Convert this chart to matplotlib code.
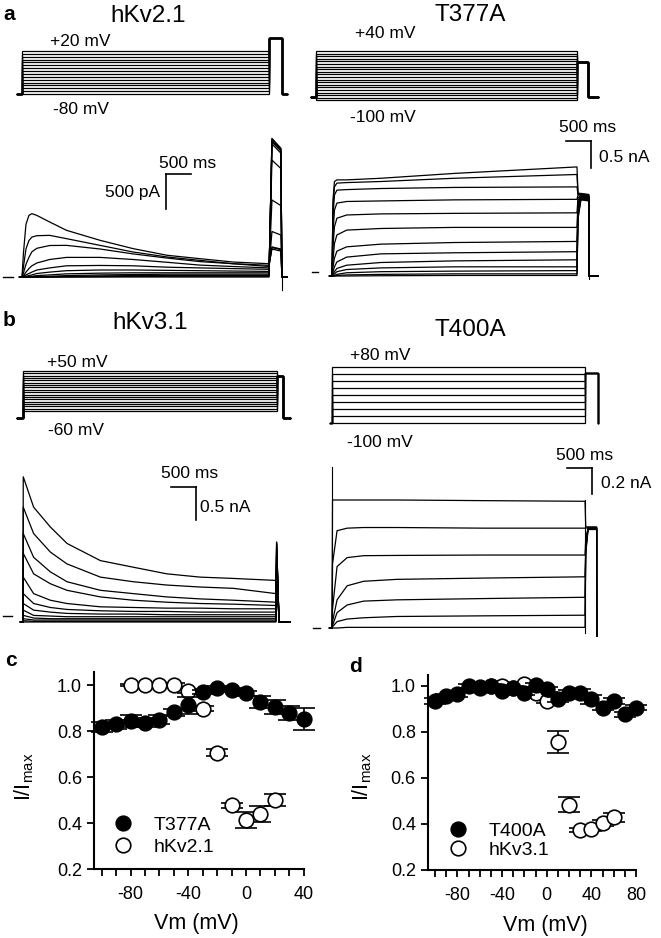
import numpy as np
import matplotlib
matplotlib.use("Agg")
import matplotlib.pyplot as plt
from matplotlib.lines import Line2D

plt.rcParams["font.family"] = ["Liberation Sans", "DejaVu Sans"]
plt.rcParams["axes.unicode_minus"] = False
plt.rcParams["mathtext.fontset"] = "custom"
plt.rcParams["mathtext.rm"] = "Liberation Sans"
plt.rcParams["mathtext.it"] = "Liberation Sans:italic"

W, H = 661, 938
STEP = 5000  # ms, length of the conditioning steps

# --- voltage protocols (mV) ---
A1_LEVELS = np.linspace(-80, 20, 16)
A2_LEVELS = np.linspace(-100, 40, 20)
B1_LEVELS = np.linspace(-60, 50, 18)
B2_LEVELS = np.linspace(-100, 80, 9)

# hold, test, post, t_pre, t_test_end, t_post_end
A1_PROT = (-80, 50, -80, -100, 5263, 5364)
A2_PROT = (-90, 10, -90, -100, 5211, 5402)
B1_PROT = (-80, 35, -80, -118, 5118, 5256)
B2_PROT = (-100, 60, -100, -40, 5257, 5257)

# --- hKv2.1 currents (nA) ---
A1_T = [0, 30, 80, 140, 200, 300, 560, 900, 1580, 2250, 2940, 3600, 4270, 5000]
A1_I = [
    [0, 0.35, 0.75, 0.88, 0.905, 0.88, 0.786, 0.667, 0.524, 0.405, 0.31, 0.262, 0.214, 0.19],
    [0, 0.15, 0.40, 0.52, 0.57, 0.59, 0.595, 0.548, 0.452, 0.357, 0.286, 0.238, 0.19, 0.167],
    [0, 0.06, 0.18, 0.28, 0.36, 0.41, 0.45, 0.452, 0.40, 0.33, 0.27, 0.22, 0.19, 0.15],
    [0, 0.02, 0.07, 0.12, 0.16, 0.20, 0.25, 0.28, 0.28, 0.25, 0.21, 0.17, 0.15, 0.13],
    [0, 0.01, 0.03, 0.05, 0.07, 0.10, 0.13, 0.16, 0.165, 0.16, 0.14, 0.13, 0.12, 0.11],
    [0, 0, 0.01, 0.02, 0.03, 0.05, 0.07, 0.09, 0.10, 0.10, 0.095, 0.09, 0.085, 0.08],
    [0, 0, 0, 0.005, 0.01, 0.02, 0.03, 0.045, 0.055, 0.06, 0.06, 0.06, 0.06, 0.06],
    [0, 0, 0, 0, 0, 0.005, 0.01, 0.02, 0.03, 0.035, 0.04, 0.04, 0.04, 0.04],
    [0, 0, 0, 0, 0, 0, 0, 0.01, 0.015, 0.02, 0.02, 0.02, 0.02, 0.02],
    [0, 0, 0, 0, 0, 0, 0, 0, 0.005, 0.01, 0.01, 0.01, 0.01, 0.01],
    [0, 0, 0, 0, 0, 0, 0, 0, 0, 0, 0, 0, 0, 0],
]
A1_TAIL_T = [5060, 5240, 5262, 5370]
A1_TAIL = [
    [0.40, 0.37, 0, 0], [0.43, 0.40, 0, 0], [0.42, 0.39, 0, 0],
    [0.65, 0.60, 0, 0], [1.10, 1.02, 0, 0], [1.67, 1.55, 0, 0],
    [1.90, 1.77, 0, 0], [1.93, 1.80, 0, 0], [1.95, 1.81, 0, 0],
    [1.97, 1.83, 0, 0], [1.98, 1.84, 0, 0],
]
A1_SPIKES = [(5262, -0.19, 0.0)]

# --- T377A currents (nA) ---
A2_T = [0, 20, 50, 100, 300, 1000, 2500, 5000]
A2_I = [
    [0, 1.41, 1.75, 1.78, 1.78, 1.81, 1.90, 2.02],
    [0, 1.28, 1.65, 1.72, 1.73, 1.75, 1.81, 1.88],
    [0, 1.10, 1.50, 1.59, 1.60, 1.62, 1.64, 1.65],
    [0, 0.79, 1.22, 1.35, 1.38, 1.39, 1.41, 1.42],
    [0, 0.54, 0.91, 1.07, 1.13, 1.15, 1.16, 1.17],
    [0, 0.30, 0.60, 0.76, 0.85, 0.88, 0.90, 0.90],
    [0, 0.17, 0.33, 0.46, 0.54, 0.59, 0.62, 0.64],
    [0, 0.08, 0.17, 0.26, 0.35, 0.41, 0.43, 0.45],
    [0, 0.04, 0.08, 0.14, 0.20, 0.25, 0.28, 0.30],
    [0, 0.01, 0.04, 0.08, 0.12, 0.15, 0.17, 0.17],
    [0, 0, 0.01, 0.03, 0.06, 0.08, 0.09, 0.10],
    [0, 0, 0, 0.01, 0.02, 0.03, 0.04, 0.04],
    [0, 0, 0, 0, 0, 0.005, 0.01, 0.01],
]
A2_TAIL_T = [5020, 5080, 5240, 5245, 5430]
A2_TAIL = [
    [1.53, 1.53, 1.51, 0, 0], [1.52, 1.52, 1.50, 0, 0], [1.51, 1.51, 1.49, 0, 0],
    [1.50, 1.50, 1.48, 0, 0], [1.45, 1.49, 1.47, 0, 0], [1.40, 1.48, 1.46, 0, 0],
    [1.35, 1.47, 1.45, 0, 0], [1.30, 1.46, 1.44, 0, 0], [1.25, 1.45, 1.43, 0, 0],
    [1.20, 1.44, 1.42, 0, 0], [1.15, 1.43, 1.41, 0, 0], [1.10, 1.42, 1.40, 0, 0],
    [1.05, 1.41, 1.39, 0, 0],
]
A2_SPIKES = [(5242, -0.05, 0.0)]

# --- hKv3.1 currents (nA) ---
B1_T = [0, 5, 210, 540, 870, 1530, 2180, 2840, 3500, 4160, 5000]
B1_I = [
    [0, 2.20, 1.74, 1.44, 1.19, 0.93, 0.83, 0.73, 0.68, 0.66, 0.63],
    [0, 1.74, 1.34, 1.06, 0.88, 0.68, 0.61, 0.56, 0.53, 0.51, 0.43],
    [0, 1.34, 0.98, 0.76, 0.61, 0.48, 0.43, 0.38, 0.35, 0.33, 0.30],
    [0, 1.04, 0.73, 0.58, 0.48, 0.38, 0.33, 0.30, 0.28, 0.27, 0.25],
    [0, 0.68, 0.43, 0.33, 0.28, 0.23, 0.22, 0.21, 0.21, 0.20, 0.20],
    [0, 0.43, 0.28, 0.22, 0.19, 0.17, 0.16, 0.16, 0.15, 0.15, 0.15],
    [0, 0.28, 0.18, 0.15, 0.13, 0.12, 0.12, 0.11, 0.11, 0.11, 0.11],
    [0, 0.18, 0.10, 0.09, 0.08, 0.08, 0.08, 0.08, 0.08, 0.08, 0.08],
    [0, 0.10, 0.06, 0.05, 0.05, 0.05, 0.05, 0.05, 0.05, 0.05, 0.05],
    [0, 0.05, 0.03, 0.03, 0.03, 0.03, 0.03, 0.03, 0.03, 0.03, 0.03],
    [0, 0.02, 0.01, 0.01, 0.01, 0.01, 0.01, 0.01, 0.01, 0.01, 0.01],
    [0, 0, 0, 0, 0, 0, 0, 0, 0, 0, 0],
]
B1_TAIL_T = [5012, 5060, 5280]
B1_TAIL = [
    [0.80, 0, 0], [0.85, 0, 0], [0.90, 0, 0], [0.95, 0, 0], [1.00, 0, 0],
    [1.05, 0, 0], [1.10, 0, 0], [1.15, 0, 0], [1.18, 0, 0], [1.20, 0, 0],
    [1.21, 0, 0], [1.21, 0, 0],
]
B1_SPIKES = []

# --- T400A currents (nA) ---
B2_T = [0, 10, 100, 300, 625, 1280, 3000, 5000]
B2_I = [
    [0, 1.0, 1.0, 1.0, 1.0, 1.0, 0.995, 0.99],
    [0, 0.5, 0.76, 0.78, 0.785, 0.785, 0.78, 0.78],
    [0, 0.15, 0.48, 0.55, 0.565, 0.567, 0.57, 0.57],
    [0, 0.05, 0.22, 0.33, 0.365, 0.38, 0.39, 0.40],
    [0, 0.02, 0.12, 0.18, 0.21, 0.22, 0.23, 0.24],
    [0, 0.01, 0.05, 0.07, 0.08, 0.09, 0.095, 0.10],
    [0, 0, 0, 0.005, 0.005, 0.005, 0.005, 0.005],
]
B2_TAIL_T = [5015, 5060, 5230, 5232]
B2_TAIL = [
    [0.79, 0.79, 0.79, -0.065], [0.78, 0.785, 0.785, -0.065],
    [0.70, 0.78, 0.78, -0.065], [0.64, 0.78, 0.78, -0.065],
    [0.62, 0.775, 0.775, -0.065], [0.60, 0.77, 0.77, -0.065],
    [0.58, 0.77, 0.77, -0.065],
]
B2_SPIKES = [(0, 0.0, 1.26), (5000, -0.04, 1.0)]

# zero-current markers: t_start, t_end, level
A1_ZERO = (-385, -182, 0.0)
A2_ZERO = (-408, -286, 0.07)
B1_ZERO = (-395, -217, 0.09)
B2_ZERO = (-375, -237, 0.0)

# --- steady-state inactivation (I/Imax) ---
C_V_MUT = [-100, -90, -80, -70, -60, -50, -40, -30, -20, -10, 0, 10, 20, 30, 40]
C_I_MUT = [0.819, 0.829, 0.843, 0.836, 0.850, 0.882, 0.911, 0.970, 0.988, 0.978,
           0.964, 0.927, 0.904, 0.880, 0.853]
C_E_MUT = [0.022, 0.02, 0.025, 0.02, 0.018, 0.015, 0.035, 0.01, 0.008, 0.008,
           0.012, 0.025, 0.03, 0.03, 0.048]
C_V_WT = [-80, -70, -60, -50, -40, -30, -20, -10, 0, 10, 20]
C_I_WT = [1.0, 1.0, 1.0, 1.0, 0.974, 0.897, 0.705, 0.477, 0.415, 0.44, 0.50]
C_E_WT = [0.005, 0.005, 0.005, 0.008, 0.01, 0.012, 0.015, 0.01, 0.035, 0.035, 0.025]

D_V_MUT = [-100, -90, -80, -70, -60, -50, -40, -30, -20, -10, 0, 10, 20, 30, 40,
           50, 60, 70, 80]
D_I_MUT = [0.935, 0.957, 0.964, 1.0, 0.996, 1.0, 0.978, 0.993, 0.971, 1.005, 0.986,
           0.942, 0.971, 0.971, 0.942, 0.906, 0.935, 0.877, 0.906]
D_E_MUT = [0.015, 0.01, 0.01, 0.01, 0.008, 0.008, 0.01, 0.008, 0.01, 0.01, 0.01,
           0.012, 0.01, 0.015, 0.02, 0.01, 0.012, 0.012, 0.01]
D_V_WT = [-60, -50, -40, -30, -20, -10, 0, 10, 20, 30, 40, 50, 60]
D_I_WT = [0.99, 1.0, 1.0, 0.99, 1.01, 0.97, 0.935, 0.756, 0.484, 0.375, 0.378,
          0.404, 0.43]
D_E_WT = [0.005, 0.005, 0.005, 0.005, 0.005, 0.008, 0.01, 0.048, 0.033, 0.008,
          0.01, 0.012, 0.02]

fig = plt.figure(figsize=(W / 100, H / 100), dpi=100)


def px_axes(x0, sx, y0, sy, xlim, ylim, off=True):
    # x0/y0: pixel of data zero, sx/sy: pixels per data unit
    left = x0 + xlim[0] * sx
    right = x0 + xlim[1] * sx
    top = y0 - ylim[1] * sy
    bottom = y0 - ylim[0] * sy
    ax = fig.add_axes([left / W, 1 - bottom / H, (right - left) / W, (bottom - top) / H])
    ax.set_xlim(xlim)
    ax.set_ylim(ylim)
    if off:
        ax.axis("off")
    return ax


def ftext(x, y, s, **kw):
    kw.setdefault("va", "center")
    fig.text(x / W, 1 - y / H, s, **kw)


def draw_protocol(ax, levels, prot):
    hold, test, post, t_pre, t_test, t_post = prot
    for v in levels:
        t = [t_pre, 0, 0, STEP, STEP, t_test, t_test, t_post]
        u = [hold, hold, v, v, test, test, post, post]
        ax.plot(t, u, color="black", lw=0.9, clip_on=False, solid_joinstyle="miter")


def draw_traces(ax, t, traces, tail_t, tails, spikes, zero):
    for tr, tl in zip(traces, tails):
        ax.plot([-50] + list(t) + list(tail_t), [0] + list(tr) + list(tl),
                color="black", lw=0.9, clip_on=False)
    for ts, lo, hi in spikes:
        ax.plot([ts, ts], [lo, hi], color="black", lw=0.8, clip_on=False)
    ax.plot([zero[0], zero[1]], [zero[2], zero[2]], color="black", lw=1.0, clip_on=False)


def scale_bar(ax, t, i, dt, di, side):
    # side: 'left' puts the vertical bar at the start, 'right' at the end
    tv = t if side == "left" else t + dt
    ax.plot([t, t + dt], [i, i], color="black", lw=1.2, clip_on=False)
    ax.plot([tv, tv], [i, i - di], color="black", lw=1.2, clip_on=False)


# ---------------- panel a ----------------
ax = px_axes(22, 0.0494, 59.6, 0.43, (-120, 5400), (-90, 55))
draw_protocol(ax, A1_LEVELS, A1_PROT)
ax = px_axes(316, 0.0522, 65.1, 0.3536, (-120, 5450), (-105, 45))
draw_protocol(ax, A2_LEVELS, A2_PROT)

ax = px_axes(22, 0.0494, 277, 70, (-450, 5450), (-0.35, 2.1))
draw_traces(ax, A1_T, A1_I, A1_TAIL_T, A1_TAIL, A1_SPIKES, A1_ZERO)
scale_bar(ax, 2915, 1.471, 500, 0.5, "left")

ax = px_axes(332, 0.049, 276, 54, (-450, 5500), (-0.2, 2.6))
draw_traces(ax, A2_T, A2_I, A2_TAIL_T, A2_TAIL, A2_SPIKES, A2_ZERO)
scale_bar(ax, 4776, 2.5, 500, 0.5, "right")

# ---------------- panel b ----------------
ax = px_axes(23, 0.0508, 389.2, 0.3636, (-150, 5300), (-85, 55))
draw_protocol(ax, B1_LEVELS, B1_PROT)
ax = px_axes(332, 0.0506, 391.9, 0.3111, (-60, 5300), (-105, 85))
draw_protocol(ax, B2_LEVELS, B2_PROT)

ax = px_axes(23, 0.0506, 622, 66, (-450, 5350), (-0.2, 2.3))
draw_traces(ax, B1_T, B1_I, B1_TAIL_T, B1_TAIL, B1_SPIKES, B1_ZERO)
scale_bar(ax, 2925, 2.045, 500, 0.5, "right")

ax = px_axes(332, 0.0506, 628, 128, (-450, 5300), (-0.1, 1.35))
draw_traces(ax, B2_T, B2_I, B2_TAIL_T, B2_TAIL, B2_SPIKES, B2_ZERO)
scale_bar(ax, 4644, 1.25, 500, 0.2, "right")

# ---------------- panels c and d ----------------
def ss_panel(ax, vm, im, em, vw, iw, ew, lab_m, lab_w, xmaj, xmin, leg_xy, spacing):
    ax.errorbar(vw, iw, yerr=ew, fmt="o", ms=10.5, mfc="white", mec="black", mew=1.2,
                ecolor="black", elinewidth=1.2, capsize=8, capthick=1.2,
                clip_on=False, zorder=3)
    ax.errorbar(vm, im, yerr=em, fmt="o", ms=10.5, mfc="black", mec="black", mew=1.2,
                ecolor="black", elinewidth=1.2, capsize=8, capthick=1.2,
                clip_on=False, zorder=4)
    for s in ("top", "right"):
        ax.spines[s].set_visible(False)
    for s in ("left", "bottom"):
        ax.spines[s].set_linewidth(1.5)
    ax.set_yticks([0.2, 0.4, 0.6, 0.8, 1.0])
    ax.set_yticklabels(["0.2", "0.4", "0.6", "0.8", "1.0"])
    ax.set_xticks(xmaj)
    ax.set_xticklabels([str(v) for v in xmaj])
    ax.set_xticks(xmin, minor=True)
    ax.tick_params(which="both", direction="out", length=5, width=1.3, labelsize=13)
    ax.tick_params(axis="x", pad=7)
    ax.tick_params(axis="y", pad=4)
    h = [Line2D([], [], ls="none", marker="o", ms=10.5, mfc="black", mec="black", mew=1.2),
         Line2D([], [], ls="none", marker="o", ms=10.5, mfc="white", mec="black", mew=1.2)]
    ax.legend(h, [lab_m, lab_w], loc="upper left", frameon=False, fontsize=14,
              handlelength=1.0, handletextpad=1.1, labelspacing=spacing, borderpad=0,
              borderaxespad=0, bbox_to_anchor=(leg_xy[0] / W, 1 - leg_xy[1] / H),
              bbox_transform=fig.transFigure)


ax = px_axes(246, 1.443, 915, 230, (-105, 40), (0.2, 1.057), off=False)
ss_panel(ax, C_V_MUT, C_I_MUT, C_E_MUT, C_V_WT, C_I_WT, C_E_WT, "T377A", "hKv2.1",
         [-80, -40, 0, 40], list(range(-100, 41, 10)), (113, 816), 0.24)

ax = px_axes(546.7, 1.117, 916, 230, (-106, 80), (0.2, 1.05), off=False)
ss_panel(ax, D_V_MUT, D_I_MUT, D_E_MUT, D_V_WT, D_I_WT, D_E_WT, "T400A", "hKv3.1",
         [-80, -40, 0, 40, 80], list(range(-100, 81, 10)), (448, 822), 0.08)

# ---------------- texts ----------------
ftext(3, 14, "a", fontsize=15, fontweight="bold")
ftext(3, 320, "b", fontsize=15, fontweight="bold")
ftext(5, 660, "c", fontsize=15, fontweight="bold")
ftext(349, 667, "d", fontsize=15, fontweight="bold")

ftext(148, 16, "hKv2.1", fontsize=17.5, ha="center")
ftext(470, 15, "T377A", fontsize=17.5, ha="center")
ftext(150, 323, "hKv3.1", fontsize=17.5, ha="center")
ftext(470, 330, "T400A", fontsize=17.5, ha="center")

ftext(50, 42, "+20 mV", fontsize=12.5)
ftext(53, 110, "-80 mV", fontsize=12.5)
ftext(355, 33, "+40 mV", fontsize=12.5)
ftext(350, 117, "-100 mV", fontsize=12.5)
ftext(47, 362, "+50 mV", fontsize=12.5)
ftext(48, 430, "-60 mV", fontsize=12.5)
ftext(350, 355, "+80 mV", fontsize=12.5)
ftext(347, 442, "-100 mV", fontsize=12.5)

ftext(188, 163, "500 ms", fontsize=12.5, ha="center")
ftext(160, 192, "500 pA", fontsize=12.5, ha="right")
ftext(588, 127, "500 ms", fontsize=12.5, ha="center")
ftext(599, 157, "0.5 nA", fontsize=12.5)
ftext(190, 473, "500 ms", fontsize=12.5, ha="center")
ftext(200, 508, "0.5 nA", fontsize=12.5)
ftext(585, 455, "500 ms", fontsize=12.5, ha="center")
ftext(601, 483, "0.2 nA", fontsize=12.5)

ftext(24, 777, r"I/I$_{\mathrm{max}}$", fontsize=15.5, rotation=90, ha="center")
ftext(362, 777, r"I/I$_{\mathrm{max}}$", fontsize=15.5, rotation=90, ha="center")
ftext(196, 923, "Vm (mV)", fontsize=15.5, ha="center")
ftext(545, 925, "Vm (mV)", fontsize=15.5, ha="center")

fig.savefig("out.png", dpi=100)
